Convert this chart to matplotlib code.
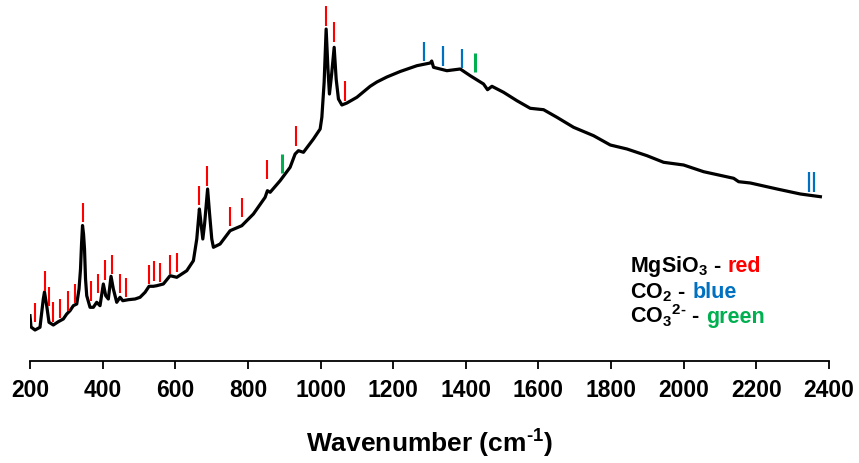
import numpy as np
import matplotlib
matplotlib.use("Agg")
import matplotlib.pyplot as plt
from matplotlib.transforms import IdentityTransform

plt.rcParams['font.family'] = ['Liberation Sans', 'DejaVu Sans']
plt.rcParams['font.weight'] = 'bold'
plt.rcParams['mathtext.fontset'] = 'custom'
plt.rcParams['mathtext.rm'] = 'Liberation Sans:bold'
plt.rcParams['mathtext.it'] = 'Liberation Sans:bold'
plt.rcParams['mathtext.bf'] = 'Liberation Sans:bold'
plt.rcParams['mathtext.default'] = 'rm'

# Raman spectrum (wavenumber in cm-1, intensity in arbitrary units)
wavenumber = [200, 202.8, 213.8, 227.5, 236.6, 239.9, 246, 252.3, 264.2, 278,
              291.7, 301.1, 310.2, 319.3, 328.7, 335, 339.1, 341.9, 344.6, 347.4,
              350.1, 352.9, 356.2, 365.3, 374.4, 383.7, 392.8, 401.9, 408.5, 415.7,
              423.1, 429.5, 438.8, 447.9, 455.4, 470.8, 489.3, 503, 516.8, 527.8,
              539.7, 549, 567.2, 585.7, 604.1, 631.7, 649.9, 659.2, 666.4, 671.1,
              675.8, 680.7, 689, 694.5, 700.5, 705, 723.4, 751, 783.2, 815.1,
              847.4, 853.7, 861.2, 888.7, 916.2, 930, 939.1, 952.9, 980.4, 998.9,
              1003.6, 1009.9, 1015.4, 1020.4, 1024.5, 1030.6, 1037.5, 1043, 1049.3, 1058.7,
              1072.5, 1100, 1136.6, 1155.1, 1182.6, 1219.3, 1265.3, 1302, 1306.1, 1311.1,
              1347.9, 1384.6, 1412.1, 1448.8, 1459.8, 1471.9, 1503.9, 1540.7, 1577.4, 1614.1,
              1650.9, 1696.7, 1751.8, 1797.8, 1843.8, 1898.9, 1944.6, 1999.7, 2054.8, 2137.5,
              2151.2, 2183.5, 2257, 2321.2, 2376.3]
intensity = [45.3, 34, 31, 33.7, 62, 69, 55.3, 38.7, 36, 39.3,
             42, 47, 50.3, 55.3, 57, 72, 92, 117, 135.5, 127,
             112, 82, 65.3, 53.7, 53.7, 58.7, 55.3, 77, 65.3, 62,
             84.7, 72, 58.7, 63.7, 60.3, 61.3, 62, 63.7, 68.7, 74.7,
             74.7, 75.3, 77, 85.3, 83.7, 90.3, 100.3, 122, 152, 137,
             122, 137, 172, 147, 122, 113.7, 117, 130.3, 135.3, 147,
             163.7, 170.3, 168.7, 180.3, 193.7, 207, 210.3, 208.7, 222, 232,
             243.7, 278.7, 332, 292, 267, 287, 313.7, 282, 262, 256,
             258, 263.7, 274.7, 279, 284, 289.5, 295.3, 298, 300, 293.7,
             290.3, 292, 285.3, 277, 271.3, 274.7, 268.7, 260.3, 252.7, 251.3,
             243.7, 233.7, 225.3, 216, 212, 205.3, 198.7, 196, 189.3, 182.7,
             179.3, 178, 172, 167, 164.3]

# band assignments: position and base height of each marker
mgsio3_pos = [213.8, 241.3, 252.3, 264.2, 282.6, 305.5, 324, 346.8, 367.2, 386.5,
              406.6, 425.1, 447.9, 463.6, 528.6, 542.4, 558.1, 585.7, 604.1, 666.4,
              688.4, 751, 784, 852.1, 932.8, 1015.4, 1036.6, 1066.9]
mgsio3_base = [38.7, 70.3, 54.7, 39.3, 43, 50.3, 57.7, 138.7, 60.3, 67.7,
               81.3, 87, 68, 63.7, 77, 80.3, 78.7, 87, 88.7, 156,
               175.3, 135, 143.7, 182, 215.3, 335.3, 319.3, 260.3]
co2_pos = [1285, 1336, 1389, 2345, 2360]
co2_base = [299.7, 295.3, 292.7, 169.3, 169.3]
co3_pos = [893, 1425]
co3_base = [187.7, 288.7]

legend_rows = [('MgSiO$_3$ -', 'red', '#FF0000'),
               ('CO$_2$ -', 'blue', '#0070C0'),
               (r'CO$_3$$^{2\text{-}}$ -', 'green', '#00B050')]

fig = plt.figure(figsize=(8.59, 4.64), dpi=100)
ax = fig.add_axes([30 / 859, 102 / 464, 799 / 859, 362 / 464])

ax.plot(wavenumber, intensity, color='k', lw=2.3, solid_joinstyle='round')

mark_len = 19.5
ax.vlines(mgsio3_pos, mgsio3_base, np.array(mgsio3_base) + mark_len, color='#FF0000', lw=1.5)
ax.vlines(co2_pos, co2_base, np.array(co2_base) + mark_len, color='#0070C0', lw=1.6)
ax.vlines(co3_pos, co3_base, np.array(co3_base) + mark_len, color='#00B050', lw=2.2)

ax.set_xlim(200, 2400)
ax.set_ylim(0, 362)
ax.set_xticks(np.arange(200, 2401, 200))
ax.set_yticks([])
for side in ['left', 'right', 'top']:
    ax.spines[side].set_visible(False)
ax.spines['bottom'].set_linewidth(1.3)
ax.tick_params(axis='x', direction='out', length=6, width=1.3, labelsize=16.5, pad=6)
for lab in ax.get_xticklabels():
    lab.set_fontweight('bold')
ax.set_xlabel(r'Wavenumber (cm$^{\text{-}1}$)', fontsize=19, fontweight='bold', labelpad=19)

# legend-like annotation with coloured words
label_y = [90.3, 64, 39]
texts = []
for (txt, word, col), y in zip(legend_rows, label_y):
    t = ax.text(1853, y, txt, fontsize=15.5, fontweight='bold', va='baseline', ha='left')
    texts.append((t, word, col, y))

fig.canvas.draw()
renderer = fig.canvas.get_renderer()
for t, word, col, y in texts:
    bb = t.get_window_extent(renderer)
    ybase = ax.transData.transform((1853, y))[1]
    fig.text(bb.x1 + 6, ybase, word, color=col, fontsize=15.5, fontweight='bold',
             va='baseline', ha='left', transform=IdentityTransform())

fig.savefig('out.png', dpi=100)
